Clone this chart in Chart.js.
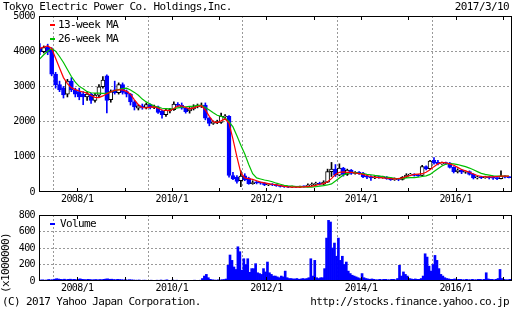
<!DOCTYPE html>
<html>
<head>
<meta charset="utf-8">
<title>Tokyo Electric Power Co. Holdings,Inc.</title>
<script src="https://cdn.jsdelivr.net/npm/chart.js@4.4.1/dist/chart.umd.min.js"></script>
<style>
  html, body { margin: 0; padding: 0; background: #fff; }
  #wrap { position: relative; width: 512px; height: 310px; overflow: hidden;
          font-family: "DejaVu Sans Mono", monospace; font-size: 11px; letter-spacing: -0.6px; color: #000; }
  #wrap canvas { position: absolute; left: 0; }
  .txt { position: absolute; white-space: pre; line-height: 12px; }
  .key { position: absolute; width: 5px; height: 2px; }
  #volUnit { left: 6px; top: 263px; transform: translate(-50%, -50%) rotate(-90deg); }
</style>
</head>
<body>
<div id="wrap">
  <canvas id="price" width="512" height="205" style="top:0"></canvas>
  <canvas id="vol" width="512" height="96" style="top:200px"></canvas>
  <div class="txt" style="left:3px;top:1px">Tokyo Electric Power Co. Holdings,Inc.</div>
  <div class="txt" style="right:3px;top:1px">2017/3/10</div>
  <div class="txt" style="left:2px;top:296px">(C) 2017 Yahoo Japan Corporation.</div>
  <div class="txt" style="right:3px;top:296px">http://stocks.finance.yahoo.co.jp</div>
  <div class="txt" id="volUnit">(x1000000)</div>
</div>
<script>
// x values are months counted from 2007/1 (= 0); one candle per month
const mIdx = (y, m) => (y - 2007) * 12 + (m - 1);
const firstMonth = [2007, 3];
const xMin = mIdx(2007, 3) + 9 / 31;   // 2007/3/10
const xMax = mIdx(2017, 3) + 9 / 31;   // 2017/3/10
const yearTicks = [2008, 2009, 2010, 2011, 2012, 2013, 2014, 2015, 2016, 2017];

// monthly candles 2007/3 .. 2017/2 (yen)
const open = [
  4080, 3990, 4110, 4050, 3350, 3050, 2960, 2780, 3150, 2900,
  2850, 2780, 2700, 2780, 2600, 2750, 2990, 3300, 2620, 2900,
  2820, 3050, 2850, 2780, 2560, 2380, 2450, 2400, 2480, 2400,
  2420, 2300, 2200, 2300, 2340, 2480, 2470, 2380, 2300, 2360,
  2420, 2440, 2470, 2100, 1950, 1970, 1980, 2130, 2150, 470,
  420, 320, 460, 380, 240, 270, 260, 250, 200, 210,
  200, 180, 160, 150, 140, 150, 140, 155, 150, 200,
  215, 240, 220, 280, 580, 650, 480, 680, 500, 620,
  530, 550, 540, 450, 430, 400, 420, 410, 420, 390,
  350, 370, 360, 420, 480, 500, 470, 470, 720, 660,
  900, 840, 800, 820, 820, 700, 580, 620, 560, 580,
  500, 400, 420, 410, 430, 430, 390, 380, 450, 420
];
const high = [
  4220, 4150, 4200, 4100, 3400, 3150, 3000, 3200, 3250, 2950,
  2950, 2850, 2850, 2800, 2800, 3050, 3280, 3330, 2900, 3150,
  3100, 3100, 2900, 2800, 2600, 2480, 2500, 2530, 2500, 2470,
  2440, 2330, 2380, 2380, 2560, 2540, 2530, 2400, 2400, 2480,
  2500, 2530, 2530, 2120, 2020, 2040, 2240, 2200, 2170, 560,
  470, 600, 520, 420, 320, 300, 280, 270, 240, 240,
  220, 190, 170, 160, 170, 160, 170, 175, 230, 260,
  280, 280, 320, 650, 840, 780, 800, 700, 650, 640,
  580, 580, 560, 480, 470, 450, 450, 450, 440, 410,
  400, 390, 440, 520, 530, 520, 500, 760, 740, 900,
  980, 900, 850, 850, 840, 720, 660, 640, 600, 600,
  520, 450, 450, 450, 440, 450, 410, 600, 470, 440
];
const low = [
  3900, 3950, 3900, 3300, 2950, 2850, 2670, 2700, 2850, 2700,
  2620, 2480, 2600, 2520, 2550, 2700, 2950, 2250, 2550, 2780,
  2780, 2780, 2700, 2470, 2330, 2330, 2350, 2360, 2360, 2370,
  2230, 2100, 2150, 2250, 2320, 2420, 2350, 2240, 2240, 2330,
  2390, 2400, 2050, 1880, 1920, 1940, 1950, 2080, 420, 350,
  250, 150, 320, 220, 220, 230, 220, 180, 180, 180,
  160, 140, 130, 120, 130, 125, 130, 135, 145, 180,
  200, 200, 200, 270, 440, 440, 460, 450, 470, 500,
  510, 500, 410, 380, 330, 380, 390, 390, 360, 330,
  330, 320, 340, 410, 460, 450, 440, 460, 630, 640,
  790, 770, 780, 780, 680, 540, 540, 520, 530, 480,
  370, 370, 380, 390, 370, 360, 350, 370, 400, 400
];
const close = [
  3990, 4100, 3970, 3350, 3050, 2900, 2760, 3150, 2900, 2780,
  2700, 2700, 2780, 2600, 2750, 2990, 3180, 2600, 2850, 2820,
  3050, 2830, 2780, 2560, 2420, 2450, 2400, 2480, 2400, 2420,
  2260, 2200, 2320, 2340, 2500, 2460, 2380, 2280, 2360, 2420,
  2440, 2460, 2100, 1950, 1980, 1990, 2150, 2150, 470, 370,
  300, 450, 350, 240, 270, 260, 250, 200, 210, 200,
  180, 160, 150, 140, 150, 140, 155, 150, 200, 215,
  240, 220, 280, 580, 650, 480, 680, 500, 620, 530,
  550, 540, 430, 420, 400, 420, 410, 420, 380, 350,
  370, 360, 420, 480, 500, 470, 460, 720, 660, 880,
  820, 800, 820, 810, 700, 580, 620, 560, 570, 500,
  400, 420, 410, 430, 400, 390, 380, 450, 420, 410
];
const ma13 = [
  4080, 4120, 4150, 4080, 3800, 3520, 3250, 3080, 2960, 2910,
  2870, 2840, 2810, 2740, 2690, 2680, 2730, 2790, 2840, 2890,
  2900, 2900, 2860, 2780, 2620, 2480, 2400, 2390, 2410, 2420,
  2380, 2330, 2320, 2310, 2370, 2440, 2450, 2400, 2360, 2390,
  2430, 2450, 2330, 2150, 2000, 1970, 2020, 2080, 1950, 1500,
  1000, 540, 400, 380, 360, 320, 280, 260, 240, 220,
  200, 180, 160, 145, 140, 140, 140, 145, 150, 165,
  190, 220, 240, 290, 380, 500, 560, 570, 560, 560,
  540, 520, 500, 470, 440, 420, 410, 400, 390, 380,
  375, 380, 400, 440, 470, 500, 510, 520, 560, 630,
  720, 800, 840, 830, 800, 760, 700, 640, 600, 560,
  510, 470, 440, 430, 430, 430, 440, 450, 450, 450
];
const ma26 = [
  3780, 3900, 4000, 4080, 4000, 3850, 3680, 3480, 3280, 3120,
  3000, 2930, 2850, 2820, 2810, 2810, 2800, 2810, 2840, 2880,
  2910, 2940, 2950, 2900, 2830, 2750, 2640, 2560, 2500, 2440,
  2410, 2380, 2370, 2360, 2370, 2390, 2410, 2420, 2430, 2440,
  2460, 2460, 2400, 2330, 2250, 2180, 2150, 2100, 2000, 1850,
  1600, 1330, 1080, 780, 520, 400, 370, 340, 320, 290,
  250, 220, 190, 175, 165, 155, 150, 145, 140, 140,
  150, 165, 180, 200, 230, 310, 400, 480, 530, 560,
  550, 530, 520, 500, 490, 470, 460, 440, 420, 410,
  390, 380, 380, 400, 410, 410, 420, 440, 460, 500,
  580, 660, 740, 790, 810, 800, 780, 750, 720, 680,
  630, 580, 530, 500, 480, 460, 450, 450, 450, 450
];
// volume (x1000000), two readings per month (first half, second half)
const volume = [
  10, 12, 14, 10, 12, 18, 14, 16, 22, 28, 24, 20, 18, 22, 16, 20, 22, 18, 20, 16,
  22, 26, 20, 18, 16, 20, 18, 14, 16, 18, 14, 18, 16, 20, 24, 26, 20, 22, 18, 16,
  20, 18, 16, 14, 14, 12, 16, 14, 12, 10, 10, 12, 8, 10, 10, 8, 8, 10, 8, 6,
  10, 8, 12, 8, 10, 14, 8, 6, 12, 8, 10, 8, 6, 8, 8, 6, 6, 8, 8, 10,
  6, 8, 10, 30, 60, 80, 40, 20, 15, 12, 10, 14, 12, 16, 18, 24, 190, 315, 250, 170,
  140, 415, 355, 130, 270, 200, 270, 105, 150, 150, 210, 100, 90, 80, 150, 110, 230, 100, 80, 60,
  60, 50, 40, 60, 50, 120, 40, 30, 30, 25, 25, 30, 20, 25, 30, 25, 30, 40, 270, 60,
  250, 40, 30, 40, 40, 150, 520, 735, 715, 400, 460, 300, 520, 250, 300, 200, 230, 120, 90, 70,
  60, 50, 40, 30, 90, 40, 30, 25, 20, 25, 20, 15, 15, 20, 15, 20, 20, 15, 15, 20,
  20, 15, 30, 190, 60, 110, 80, 60, 30, 25, 20, 25, 20, 20, 30, 60, 330, 290, 180, 120,
  200, 310, 250, 150, 80, 60, 40, 30, 25, 20, 20, 25, 15, 20, 20, 15, 15, 20, 15, 15,
  20, 15, 15, 20, 20, 15, 20, 100, 25, 20, 20, 15, 20, 30, 140, 30, 20, 15, 15, 20
];

const BLUE = '#0000ff';
const RED = '#ff0000';
const GREEN = '#00c000';
const GRID = '#999999';
const font = { family: "'DejaVu Sans Mono', monospace", size: 10 };

const x0 = mIdx(firstMonth[0], firstMonth[1]);
const cx = i => x0 + i + 0.5;
const down = open.map((o, i) => close[i] < o);

// frame box plus the short inner tick marks at each January
const frame = {
  id: 'frame',
  afterDatasetsDraw(chart) {
    const { ctx, chartArea: a, scales: { x } } = chart;
    ctx.save();
    ctx.strokeStyle = '#000';
    ctx.lineWidth = 1;
    ctx.beginPath();
    yearTicks.forEach(y => {
      const px = Math.round(x.getPixelForValue(mIdx(y, 1))) + 0.5;
      ctx.moveTo(px, a.top); ctx.lineTo(px, a.top + 4);
      ctx.moveTo(px, a.bottom); ctx.lineTo(px, a.bottom - 4);
    });
    ctx.stroke();
    ctx.strokeRect(a.left + 0.5, a.top + 0.5, a.right - a.left - 1, a.bottom - a.top - 1);
    ctx.restore();
  }
};

function xAxis(h) {
  return {
    type: 'linear', min: xMin, max: xMax, offset: false,
    afterBuildTicks: s => { s.ticks = yearTicks.map(y => ({ value: mIdx(y, 1) })); },
    afterFit: s => { s.height = h; },
    grid: {
      color: c => (c.tick && (2007 + c.tick.value / 12) % 2 === 0 ? GRID : 'rgba(0,0,0,0)'),
      drawTicks: false
    },
    border: { display: false, dash: [2, 2] },
    ticks: {
      font, color: '#000', padding: 1, autoSkip: false, maxRotation: 0,
      callback: v => { const y = 2007 + v / 12; return y % 2 === 0 ? y + '/1' : ''; }
    }
  };
}

function yAxis(max, step) {
  return {
    min: 0, max,
    afterFit: s => { s.width = 39; },
    grid: {
      color: c => (c.tick && c.tick.value > 0 && c.tick.value < max ? GRID : 'rgba(0,0,0,0)'),
      drawTicks: false
    },
    border: { display: false, dash: [2, 2] },
    ticks: { stepSize: step, font, color: '#000', padding: 4, callback: v => String(v) }
  };
}

const common = {
  responsive: false, animation: false, events: [],
  plugins: { legend: { display: false }, tooltip: { enabled: false } }
};

const priceChart = new Chart(document.getElementById('price'), {
  type: 'bar',
  data: {
    datasets: [
      { type: 'line', label: '13-week MA', data: ma13.map((v, i) => ({ x: cx(i), y: v })),
        borderColor: RED, borderWidth: 1.2, pointRadius: 0, order: 0 },
      { type: 'line', label: '26-week MA', data: ma26.map((v, i) => ({ x: cx(i), y: v })),
        borderColor: GREEN, borderWidth: 1.2, pointRadius: 0, order: 1 },
      { label: 'body', data: open.map((o, i) => ({ x: cx(i), y: [o, close[i]] })),
        backgroundColor: down.map(d => (d ? BLUE : '#ffffff')),
        borderColor: down.map(d => (d ? BLUE : '#000000')),
        borderWidth: 1, borderSkipped: false, barThickness: 4, minBarLength: 1,
        grouped: false, order: 2 },
      { label: 'wick', data: low.map((l, i) => ({ x: cx(i), y: [l, high[i]] })),
        backgroundColor: down.map(d => (d ? BLUE : '#000000')),
        barThickness: 1, grouped: false, order: 3 }
    ]
  },
  options: Object.assign({}, common, {
    layout: { padding: { top: 16, right: 0, left: 0, bottom: 0 } },
    scales: { x: xAxis(13), y: yAxis(5000, 1000) }
  }),
  plugins: [frame]
});

const volChart = new Chart(document.getElementById('vol'), {
  type: 'bar',
  data: {
    datasets: [
      { label: 'Volume', data: volume.map((v, i) => ({ x: x0 + i / 2 + 0.25, y: v })),
        backgroundColor: BLUE, borderColor: BLUE, barThickness: 2, grouped: false }
    ]
  },
  options: Object.assign({}, common, {
    layout: { padding: { top: 15, right: 0, left: 0, bottom: 0 } },
    scales: { x: xAxis(15), y: yAxis(800, 200) }
  }),
  plugins: [frame]
});

// legends inside the plot, built from the datasets
function addLegend(chart, labels, top, textLeft) {
  const wrap = document.getElementById('wrap');
  chart.data.datasets.filter(d => labels.includes(d.label)).forEach((d, i) => {
    const y = top + i * 14;
    const key = document.createElement('div');
    key.className = 'key';
    key.style.cssText = `left:50px;top:${y}px;background:${d.borderColor}`;
    const txt = document.createElement('div');
    txt.className = 'txt';
    txt.style.cssText = `left:${textLeft}px;top:${y - 5}px`;
    txt.textContent = d.label;
    wrap.append(key, txt);
  });
}
addLegend(priceChart, ['13-week MA', '26-week MA'], 24, 58);
addLegend(volChart, ['Volume'], 223, 60);
</script>
</body>
</html>
